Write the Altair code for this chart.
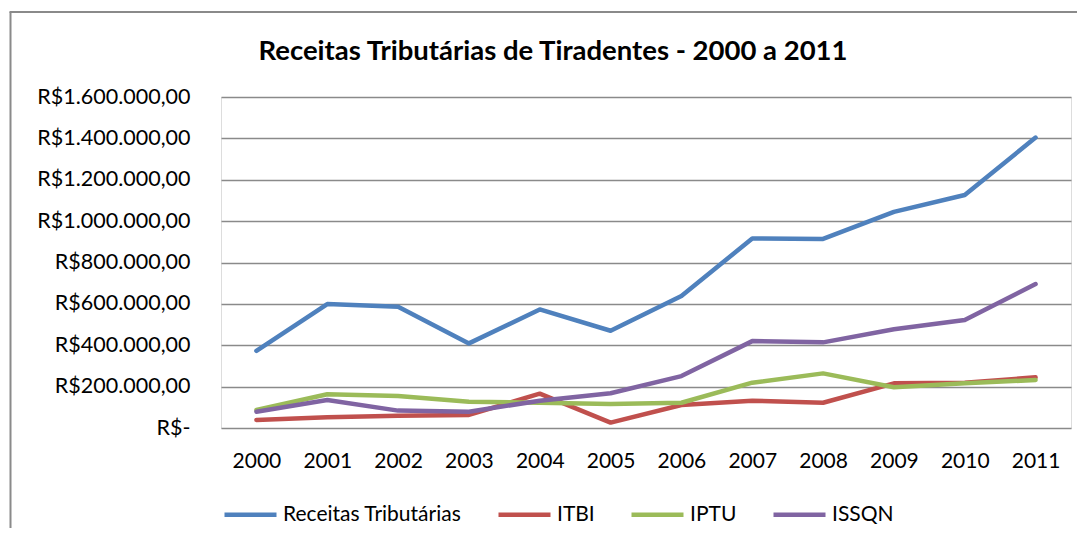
import altair as alt
import pandas as pd

years = ["2000", "2001", "2002", "2003", "2004", "2005", "2006", "2007", "2008", "2009", "2010", "2011"]
series_names = ["Receitas Tributárias", "ITBI", "IPTU", "ISSQN"]
series_colors = ["#4F81BD", "#C0504D", "#9BBB59", "#8064A2"]

receitas = [373000, 599000, 586000, 409000, 573000, 470000, 638000, 916000, 914000, 1045000, 1126000, 1404000]
itbi = [39000, 52000, 59000, 63000, 166000, 26000, 111000, 132000, 122000, 216000, 219000, 245000]
iptu = [87000, 163000, 155000, 127000, 122000, 116000, 122000, 219000, 264000, 197000, 216000, 232000]
issqn = [79000, 135000, 84000, 79000, 132000, 168000, 251000, 420000, 414000, 477000, 522000, 696000]

y_tick_values = [0, 200000, 400000, 600000, 800000, 1000000, 1200000, 1400000, 1600000]
y_tick_labels = ["R$-", "R$200.000,00", "R$400.000,00", "R$600.000,00", "R$800.000,00",
                 "R$1.000.000,00", "R$1.200.000,00", "R$1.400.000,00", "R$1.600.000,00"]

chart_title = "Receitas Tributárias de Tiradentes - 2000 a 2011"

rows = []
for name, vals in zip(series_names, [receitas, itbi, iptu, issqn]):
    for yr, v in zip(years, vals):
        rows.append({"Ano": yr, "Serie": name, "Valor": v})
df = pd.DataFrame(rows)

label_expr = " : ".join(f"datum.value == {v} ? '{l}'" for v, l in zip(y_tick_values, y_tick_labels)) + " : ''"

FONT = "Lato"
W, H = 850, 331

lines = alt.Chart(df).mark_line(strokeWidth=4.5, strokeJoin="round", strokeCap="round").encode(
    x=alt.X("Ano:O", sort=years,
            scale=alt.Scale(type="point", padding=0.5),
            axis=alt.Axis(title=None, labelAngle=0, domain=False, ticks=False, grid=False,
                          labelFont=FONT, labelFontSize=21, labelColor="#000000", labelPadding=22)),
    y=alt.Y("Valor:Q",
            scale=alt.Scale(domain=[0, 1600000], nice=False, zero=True),
            axis=alt.Axis(title=None, values=y_tick_values, labelExpr=label_expr,
                          domain=False, ticks=False, grid=True, gridColor="#8a8a8a", gridWidth=1.5,
                          labelFont=FONT, labelFontSize=21.5, labelColor="#000000", labelPadding=31)),
    color=alt.Color("Serie:N",
                    scale=alt.Scale(domain=series_names, range=series_colors),
                    legend=alt.Legend(title=None, orient="none", direction="horizontal",
                                      legendX=1, legendY=389, padding=0,
                                      symbolType="stroke", symbolSize=2704, symbolStrokeWidth=4.5,
                                      labelFont=FONT, labelFontSize=21, labelColor="#000000",
                                      labelLimit=0, labelOffset=4, columnPadding=27)),
    order=alt.value(0),
)

dummy = pd.DataFrame({"t": [chart_title]})

title_mark = alt.Chart(dummy).mark_text(
    font=FONT, fontSize=27.5, fontWeight="bold", color="#000000", align="center", baseline="alphabetic"
).encode(text="t:N", x=alt.value(332), y=alt.value(-37))

border_left = alt.Chart(dummy).mark_rule(color="#8a8a8a", strokeWidth=2).encode(
    x=alt.value(-210.5), y=alt.value(-85), y2=alt.value(H + 110))
border_top = alt.Chart(dummy).mark_rule(color="#8a8a8a", strokeWidth=2).encode(
    x=alt.value(-211.5), x2=alt.value(W + 20), y=alt.value(-85))

chart = alt.layer(border_left, border_top, title_mark, lines).properties(
    width=W, height=H,
    autosize=alt.AutoSizeParams(type="none"),
    padding={"left": 213, "top": 89, "right": 6, "bottom": 100},
).configure_view(stroke=None).configure(background="white")

chart.save("out.html", embed_options={"renderer": "svg", "actions": False})
